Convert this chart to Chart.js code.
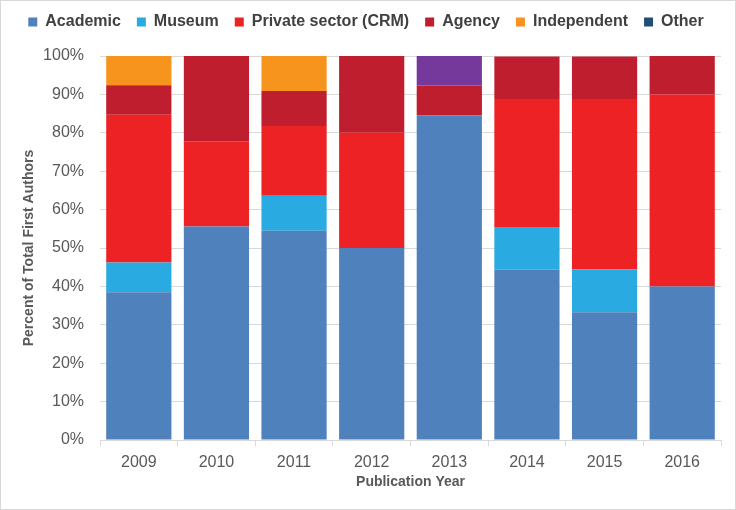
<!DOCTYPE html>
<html>
<head>
<meta charset="utf-8">
<script src="https://cdn.jsdelivr.net/npm/chart.js@4"></script>
<style>
  html, body { margin: 0; padding: 0; background: #fff; }
  #wrap { width: 734px; height: 508px; border: 1px solid #d9d9d9; }
</style>
</head>
<body>
<div id="wrap"><canvas id="authorsChart" width="734" height="508"></canvas></div>
<script>
// categories
const years = ['2009', '2010', '2011', '2012', '2013', '2014', '2015', '2016'];

// percent of first authors per sector
const academic    = [38.5, 55.6, 54.5, 50.0, 84.6, 44.4, 33.3, 40.0];
const museum      = [7.7, 0, 9.1, 0, 0, 11.1, 11.1, 0];
const privateCRM  = [38.5, 22.2, 18.2, 30.0, 0, 33.3, 44.4, 50.0];
const agency      = [7.7, 22.2, 9.1, 20.0, 7.7, 11.1, 11.1, 10.0];
const independent = [7.7, 0, 9.1, 0, 0, 0, 0, 0];
const other       = [0, 0, 0, 0, 7.7, 0, 0, 0];

const yTicks = [0, 10, 20, 30, 40, 50, 60, 70, 80, 90, 100];

Chart.defaults.font.family = '"Liberation Sans", Arial, sans-serif';

// extra room under the legend
const legendSpacer = {
  id: 'legendSpacer',
  beforeInit(chart) {
    const origFit = chart.legend.fit;
    chart.legend.fit = function () {
      origFit.call(this);
      this.height += 16;
    };
  },
};

const ctx = document.getElementById('authorsChart');
new Chart(ctx, {
  type: 'bar',
  data: {
    labels: years,
    datasets: [
      { label: 'Academic', data: academic, backgroundColor: '#4f81bd' },
      { label: 'Museum', data: museum, backgroundColor: '#29abe2' },
      { label: 'Private sector (CRM)', data: privateCRM, backgroundColor: '#ed2224' },
      { label: 'Agency', data: agency, backgroundColor: '#be1e2d' },
      { label: 'Independent', data: independent, backgroundColor: '#f7941d' },
      {
        label: 'Other',
        data: other,
        // 2013 bar shows up purple in the original figure
        backgroundColor: (c) => c.dataIndex === 4 ? '#74399a' : '#1f4e79',
      },
    ],
  },
  plugins: [legendSpacer],
  options: {
    responsive: false,
    animation: false,
    datasets: { bar: { barPercentage: 0.84, categoryPercentage: 1 } },
    layout: { padding: { left: 10, right: 14, top: -3, bottom: 14 } },
    plugins: {
      legend: {
        position: 'top',
        labels: {
          boxWidth: 9,
          boxHeight: 9,
          padding: 16,
          color: '#404040',
          font: { size: 16, weight: 'bold' },
        },
      },
      tooltip: { enabled: false },
    },
    scales: {
      x: {
        stacked: true,
        afterFit: (axis) => { axis.height = 55; },
        grid: { display: true, drawOnChartArea: false, color: '#d9d9d9', tickLength: 6, offset: true },
        border: { color: '#d9d9d9' },
        ticks: { color: '#595959', font: { size: 16 }, padding: 7 },
        title: { display: true, text: 'Publication Year', color: '#595959', font: { size: 14, weight: 'bold' }, padding: { top: 0, bottom: 4 } },
      },
      y: {
        stacked: true,
        min: 0,
        max: 100,
        afterFit: (axis) => { axis.width = 89; },
        afterBuildTicks: (axis) => { axis.ticks = yTicks.map(v => ({ value: v })); },
        grid: { color: '#d9d9d9', drawTicks: false },
        border: { display: false },
        ticks: { color: '#595959', font: { size: 16 }, padding: 16, callback: (v) => v + '%' },
        title: { display: true, text: 'Percent of Total First Authors', color: '#595959', font: { size: 14, weight: 'bold' }, padding: { top: 10, bottom: 6 } },
      },
    },
  },
});
</script>
</body>
</html>
